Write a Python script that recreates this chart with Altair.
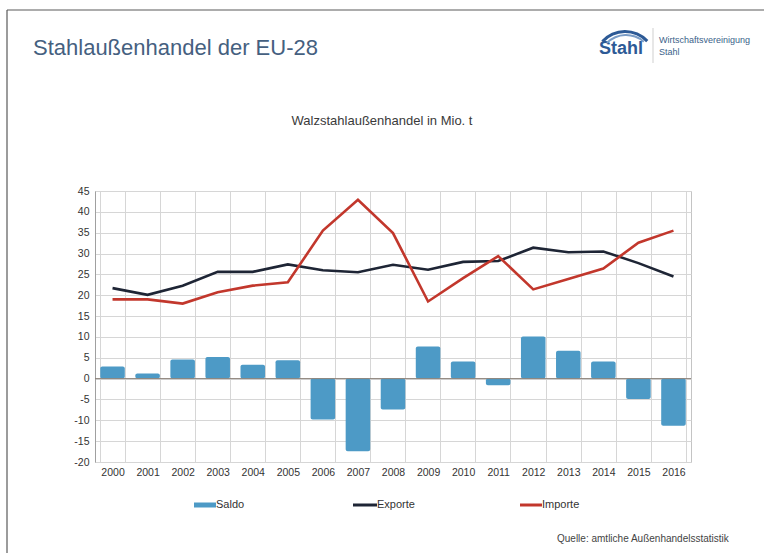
import altair as alt
import pandas as pd

years = [str(y) for y in range(2000, 2017)]
saldo = [2.9, 1.2, 4.6, 5.2, 3.3, 4.4, -9.8, -17.4, -7.4, 7.7, 4.1, -1.6, 10.1, 6.7, 4.1, -4.9, -11.3]
exporte = [21.7, 20.1, 22.3, 25.6, 25.6, 27.4, 26.0, 25.5, 27.3, 26.1, 28.0, 28.2, 31.4, 30.3, 30.5, 27.7, 24.5]
importe = [19.0, 19.0, 18.0, 20.7, 22.3, 23.1, 35.5, 42.9, 34.9, 18.5, 24.1, 29.4, 21.4, 23.9, 26.4, 32.6, 35.5]
y_ticks = list(range(-20, 50, 5))

legend_names = ["Saldo", "Exporte", "Importe"]
main_title = "Stahlaußenhandel der EU-28"
sub_title = "Walzstahlaußenhandel in Mio. t"
source_text = "Quelle: amtliche Außenhandelsstatistik"

C_BAR = "#4d9ac6"
C_EXP = "#1e2535"
C_IMP = "#c2372c"
FONT = "Liberation Sans Narrow, Arial Narrow, Liberation Sans, Arial, sans-serif"
FONT_W = "Liberation Sans, Arial, sans-serif"

df = pd.DataFrame({"Jahr": years, "Saldo": saldo, "Exporte": exporte, "Importe": importe})
one = pd.DataFrame({"k": [0]})

W, H = 596, 271

x_enc = alt.X("Jahr:N", sort=years, title=None,
              scale=alt.Scale(paddingInner=0.3, paddingOuter=0.15),
              axis=alt.Axis(labelAngle=0, tickBand="extent", grid=True, gridColor="#d6d6d6",
                            ticks=False, domain=False, labelFontSize=10.5, labelColor="#333333",
                            labelFont=FONT, labelPadding=5))
y_scale = alt.Scale(domain=[-20, 45], nice=False, zero=False)
y_axis = alt.Axis(values=y_ticks, title=None, grid=True, gridColor="#d6d6d6", ticks=False,
                  domainColor="#a0a0a0", labelFontSize=10.5, labelColor="#333333", labelFont=FONT,
                  labelPadding=6, labelOverlap=False, labelExpr="'' + datum.value")

base = alt.Chart(df)

bars = base.mark_bar(color=C_BAR, cornerRadius=2).encode(
    x=x_enc,
    y=alt.Y("Saldo:Q", scale=y_scale, axis=y_axis),
    y2=alt.datum(0),
)

zero_rule = alt.Chart(one).mark_rule(color="#8a7f76", strokeWidth=1).encode(
    y=alt.Y(datum=0, scale=y_scale, axis=y_axis),
)

exp_line = base.mark_line(color=C_EXP, strokeWidth=2.6).encode(
    x=alt.X("Jahr:N", sort=years, bandPosition=0.5),
    y=alt.Y("Exporte:Q", scale=y_scale, axis=y_axis),
)
imp_line = base.mark_line(color=C_IMP, strokeWidth=2.6).encode(
    x=alt.X("Jahr:N", sort=years, bandPosition=0.5),
    y=alt.Y("Importe:Q", scale=y_scale, axis=y_axis),
)

def text(txt, x, y, size, color, align="left", weight="normal", font=FONT_W, baseline="middle"):
    return alt.Chart(one).mark_text(text=txt, align=align, baseline=baseline, fontSize=size,
                                    color=color, fontWeight=weight, font=font).encode(
        x=alt.value(x), y=alt.value(y))

ox, oy = 95, 191  # plot origin in page coordinates

title_t = text(main_title, 33 - ox, 48 - oy, 22, "#45607f")
sub_t = text(sub_title, 382 - ox, 121 - oy, 13, "#3a3a3a", align="center", font=FONT)
src_t = text(source_text, 557 - ox, 539 - oy, 10, "#444444", font=FONT)

# logo
logo_stahl = text("Stahl", 599 - ox, 54 - oy, 18, "#2d5a96", weight="bold", baseline="alphabetic")
logo_w1 = text("Wirtschaftsvereinigung", 659 - ox, 40 - oy, 9, "#3b5f8a", font=FONT)
logo_w2 = text("Stahl", 659 - ox, 52 - oy, 9, "#3b5f8a", font=FONT)
logo_sep = alt.Chart(one).mark_rule(color="#cfcfcf").encode(
    x=alt.value(653 - ox), y=alt.value(28 - oy), y2=alt.value(63 - oy))
arc1 = alt.Chart(one).mark_arc(theta=5.45, theta2=7.1, radius=32, radius2=29, color="#2d5a96").encode(
    x=alt.value(625 - ox), y=alt.value(62 - oy))
arc2 = alt.Chart(one).mark_arc(theta=5.5, theta2=7.0, radius=28, radius2=26, color="#7a9cc6").encode(
    x=alt.value(626 - ox), y=alt.value(62 - oy))

# frame lines
frame_top = alt.Chart(one).mark_rule(color="#5a5a5a", strokeWidth=1.2).encode(
    x=alt.value(7 - ox), x2=alt.value(764 - ox), y=alt.value(10 - oy))
frame_left = alt.Chart(one).mark_rule(color="#5a5a5a", strokeWidth=1.2).encode(
    x=alt.value(7 - ox), y=alt.value(10 - oy), y2=alt.value(553 - oy))

# legend
ly = 505 - oy
leg_saldo = alt.Chart(one).mark_rect(color=C_BAR).encode(
    x=alt.value(194 - ox), x2=alt.value(216 - ox), y=alt.value(ly - 2.5), y2=alt.value(ly + 2.5))
leg_exp = alt.Chart(one).mark_rule(color=C_EXP, strokeWidth=3).encode(
    x=alt.value(353 - ox), x2=alt.value(377 - ox), y=alt.value(ly))
leg_imp = alt.Chart(one).mark_rule(color=C_IMP, strokeWidth=3).encode(
    x=alt.value(520 - ox), x2=alt.value(542 - ox), y=alt.value(ly))
leg_t1 = text(legend_names[0], 216 - ox, ly, 11, "#333333", font=FONT)
leg_t2 = text(legend_names[1], 377 - ox, ly, 11, "#333333", font=FONT)
leg_t3 = text(legend_names[2], 542 - ox, ly, 11, "#333333", font=FONT)

chart = alt.layer(
    bars, zero_rule, exp_line, imp_line,
    title_t, sub_t, src_t, logo_stahl, logo_w1, logo_w2, logo_sep, arc1, arc2,
    frame_top, frame_left,
    leg_saldo, leg_exp, leg_imp, leg_t1, leg_t2, leg_t3,
).properties(
    width=W, height=H,
    autosize=alt.AutoSizeParams(type="none"),
    padding={"left": ox, "top": oy, "right": 764 - ox - W, "bottom": 553 - oy - H},
    background="white",
).configure_view(stroke="#c4c4c4", strokeWidth=1)

chart.save("out.html", embed_options={"renderer": "svg", "actions": False})
